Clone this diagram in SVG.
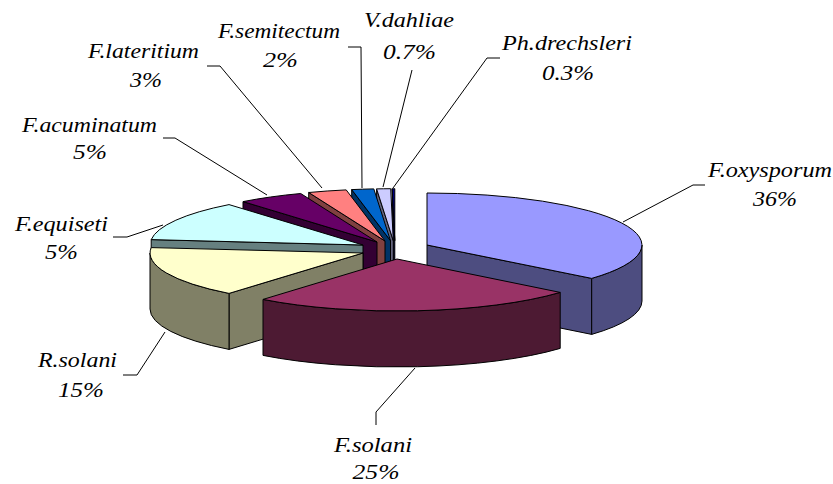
<svg xmlns="http://www.w3.org/2000/svg" width="833" height="484" viewBox="0 0 833 484">
<style>
  path { stroke: #000; stroke-width: 1; stroke-linejoin: round; }
  .lbl { font-family: 'Liberation Serif', 'Times New Roman', serif; font-style: italic; font-size: 20px; fill: #000; text-anchor: middle; }
  .ld { fill: none; stroke: #000; stroke-width: 1; }
</style>
<rect width="833" height="484" fill="#fff"/>

<g id="ph-drechsleri">
  <path fill="#000040" d="M394.8,240.7 L392.2,188.7 L392.2,244.7 L394.8,296.7 Z"/>
  <path fill="#000080" d="M394.8,240.7 L392.2,188.7 A213,52 0 0 1 394.8,188.7 Z"/>
  <text class="lbl" x="567" y="50" textLength="130" lengthAdjust="spacingAndGlyphs">Ph.drechsleri</text>
  <text class="lbl" x="568" y="80" textLength="52" lengthAdjust="spacingAndGlyphs">0.3%</text>
</g>

<g id="v-dahliae">
  <path fill="#666680" d="M393.3,240.7 L376.6,188.9 L376.6,244.9 L393.3,296.7 Z"/>
  <path fill="#CCCCFF" d="M393.3,240.7 L376.6,188.9 A213,52 0 0 1 390.7,188.7 Z"/>
  <text class="lbl" x="409" y="27" textLength="90" lengthAdjust="spacingAndGlyphs">V.dahliae</text>
  <text class="lbl" x="409.5" y="59" textLength="53" lengthAdjust="spacingAndGlyphs">0.7%</text>
</g>

<g id="f-semitectum">
  <path fill="#003366" d="M390.5,240.7 L351.7,189.6 L351.7,245.6 L390.5,296.7 Z"/>
  <path fill="#0066CC" d="M390.5,240.7 L351.7,189.6 A213,52 0 0 1 373.8,188.9 Z"/>
  <text class="lbl" x="279" y="38" textLength="122" lengthAdjust="spacingAndGlyphs">F.semitectum</text>
  <text class="lbl" x="280.5" y="67" textLength="35" lengthAdjust="spacingAndGlyphs">2%</text>
</g>

<g id="f-lateritium">
  <path fill="#804040" d="M385,241 L308.7,192.5 L308.7,248.5 L385,297 Z"/>
  <path fill="#FF8080" d="M385,241 L308.7,192.5 A213,52 0 0 1 346.2,189.9 Z"/>
  <text class="lbl" x="143.5" y="58" textLength="111" lengthAdjust="spacingAndGlyphs">F.lateritium</text>
  <text class="lbl" x="146" y="87" textLength="32" lengthAdjust="spacingAndGlyphs">3%</text>
</g>

<g id="f-acuminatum">
  <path fill="#330033" d="M377,242 L243,201.6 L243,257.6 L377,298 Z"/>
  <path fill="#660066" d="M377,242 L243,201.6 A213,52 0 0 1 300.7,193.5 Z"/>
  <text class="lbl" x="89.5" y="132" textLength="135" lengthAdjust="spacingAndGlyphs">F.acuminatum</text>
  <text class="lbl" x="90" y="159" textLength="34" lengthAdjust="spacingAndGlyphs">5%</text>
</g>

<g id="f-equiseti">
  <path fill="#668080" d="M363,245 L151.2,239.6 L151.2,295.6 L363,301 Z"/>
  <path fill="#CCFFFF" d="M363,245 L151.2,239.6 A213,52 0 0 1 229,204.6 Z"/>
  <text class="lbl" x="61.5" y="231" textLength="93" lengthAdjust="spacingAndGlyphs">F.equiseti</text>
  <text class="lbl" x="61.5" y="259" textLength="33" lengthAdjust="spacingAndGlyphs">5%</text>
</g>

<g id="f-oxysporum">
  <path fill="#4D4D80" d="M427,245 L591.7,278.4 L591.7,334.4 L427,301 Z"/>
  <path fill="#4D4D80" d="M642,245 A215,52 0 0 1 591.7,278.4 L591.7,334.4 A215,52 0 0 0 642,301 Z"/>
  <path fill="#9999FF" d="M427,245 L427,193 A215,52 0 0 1 591.7,278.4 Z"/>
  <text class="lbl" x="770" y="177" textLength="124" lengthAdjust="spacingAndGlyphs">F.oxysporum</text>
  <text class="lbl" x="775" y="206" textLength="44" lengthAdjust="spacingAndGlyphs">36%</text>
</g>

<g id="r-solani">
  <path fill="#808066" d="M363,253 L229,293.4 L229,349.4 L363,309 Z"/>
  <path fill="#808066" d="M229,293.4 A213,52 0 0 1 150,253 L150,309 A213,52 0 0 0 229,349.4 Z"/>
  <path fill="#FFFFCC" d="M363,253 L229,293.4 A213,52 0 0 1 151.2,247.6 Z"/>
  <text class="lbl" x="77.5" y="367" textLength="79" lengthAdjust="spacingAndGlyphs">R.solani</text>
  <text class="lbl" x="81" y="397" textLength="46" lengthAdjust="spacingAndGlyphs">15%</text>
</g>

<g id="f-solani">
  <path fill="#4D1A33" d="M560.2,292.4 A213,52 0 0 1 263,299.4 L263,355.4 A213,52 0 0 0 560.2,348.4 Z"/>
  <path fill="#993366" d="M397,259 L560.2,292.4 A213,52 0 0 1 263,299.4 Z"/>
  <text class="lbl" x="373" y="452" textLength="78" lengthAdjust="spacingAndGlyphs">F.solani</text>
  <text class="lbl" x="376" y="479" textLength="47" lengthAdjust="spacingAndGlyphs">25%</text>
</g>

<g id="leaders">
  <polyline class="ld" points="705,185 693,185 623,222"/>
  <polyline class="ld" points="415,368 376,412 376,425"/>
  <polyline class="ld" points="123,375 137,375 165,332"/>
  <polyline class="ld" points="113,237 127,237 163,225"/>
  <polyline class="ld" points="163,138 175,138 267,195"/>
  <polyline class="ld" points="207,66 220,66 322,188"/>
  <polyline class="ld" points="348,47 361,47 362,188"/>
  <polyline class="ld" points="412,70 383,187"/>
  <polyline class="ld" points="500,58 487,58 393,188"/>
</g>
</svg>
